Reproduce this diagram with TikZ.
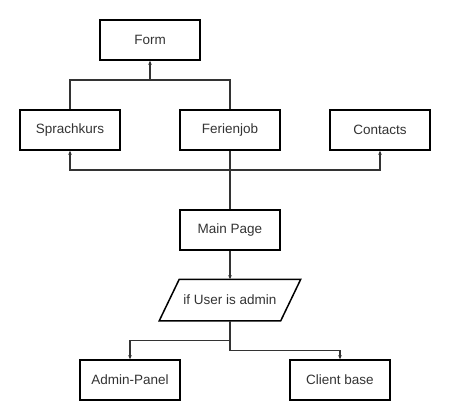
\documentclass[tikz,border=0pt]{standalone}
\usepackage{fontspec}
\setmainfont{Liberation Sans}
\usetikzlibrary{arrows.meta}
\begin{document}
\begin{tikzpicture}[x=1pt,y=-1pt,
  box/.style={draw,line width=1.5pt,minimum width=100pt,minimum height=40pt,inner sep=0pt,font=\fontsize{13.5}{16}\selectfont,text=black!80},
  link/.style={line width=1.2pt,draw=black!80},
  arr/.style={link,-{Stealth[length=4pt,width=3.5pt]}}]
\useasboundingbox (0,0) rectangle (450,420);
\node[box] (form) at (150,40) {Form};
\node[box] (sprach) at (70,130) {Sprachkurs};
\node[box] (ferien) at (230,130) {Ferienjob};
\node[box] (contacts) at (380,130) {Contacts};
\node[box] (main) at (230,230) {Main Page};
\node[box,draw=none,minimum width=120pt] (cond) at (230,300) {if User is admin};
\draw[line width=1.5pt] ([xshift=10pt]cond.north west) -- ([xshift=10pt]cond.north east)
  -- ([xshift=-10pt]cond.south east) -- ([xshift=-10pt]cond.south west) -- cycle;
\node[box] (admin) at (130,380) {Admin-Panel};
\node[box] (client) at (340,380) {Client base};
\coordinate (up) at (150,80);
\coordinate (down) at (230,170);
\foreach \s in {sprach,ferien}
  \draw[link] (\s.north) |- (up);
\draw[arr] (up) -- (form.south);
\draw[link] (main.north) -- (ferien.south);
\foreach \t in {sprach,contacts}
  \draw[arr] (down) -| (\t.south);
\draw[arr] (main.south) -- (cond.north);
\draw[arr] (cond.south) -- ++(0,20) -| (admin.north);
\draw[arr] (cond.south) -- ++(0,30) -| (client.north);
\end{tikzpicture}
\end{document}
